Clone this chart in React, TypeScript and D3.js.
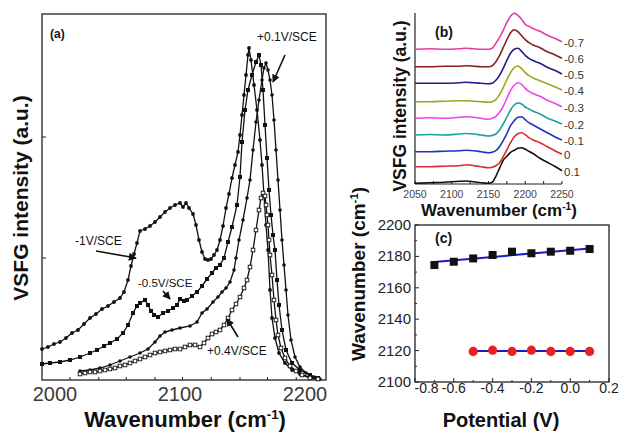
import React from 'react';
import * as d3 from 'd3';

const FONT = "'Liberation Sans', Arial, Helvetica, sans-serif";

// ---------- Panel (a) ----------
const aXTickLabels = [2000, 2100, 2200];
const aXTicks = [2012, 2035, 2057, 2080, 2102, 2125, 2148, 2170, 2193];
const aYTicks = [122, 243];

type P = [number, number];

const curveMinus1V: P[] = [
  [1989.6, 31], [1994.4, 33], [1999.2, 36], [2004, 38], [2008.8, 42], [2013.6, 47], [2018.4, 50], [2023.2, 56],
  [2028, 62], [2032.8, 66], [2037.6, 71], [2042.4, 74], [2047.2, 78], [2052, 82], [2055.2, 88], [2058.4, 100],
  [2060.8, 114], [2063.2, 126], [2065.6, 137], [2068, 149], [2072, 151], [2076, 154], [2080, 158], [2084, 163],
  [2088, 168], [2092, 172], [2096, 175], [2100, 177], [2102.4, 173], [2104.8, 177], [2107.2, 172], [2110.4, 166],
  [2112.8, 155], [2115.2, 140], [2117.6, 128], [2120, 121], [2122.4, 120], [2124.8, 121], [2127.2, 125], [2129.6, 130],
  [2132, 140], [2134.4, 154], [2136.8, 172], [2139.2, 186], [2141.6, 202], [2144, 215], [2146.4, 228], [2148, 245],
  [2149.6, 265], [2151.2, 285], [2152.8, 305], [2154.4, 325], [2155.2, 332], [2156.8, 320], [2159.2, 295], [2161.6, 270],
  [2164, 240], [2165.6, 215], [2167.2, 185], [2168.8, 155], [2170.4, 130], [2172, 90], [2173.6, 62], [2176, 42],
  [2179.2, 27], [2184, 17], [2189.6, 10], [2196, 6], [2204, 3], [2210.4, 1],
];

const curveMinus05V: P[] = [
  [1989.6, 16], [1996, 17], [2004, 18], [2012, 20], [2020, 23], [2028, 27], [2033.6, 30], [2039.2, 34], [2044, 37],
  [2049.6, 41], [2054.4, 47], [2058.4, 55], [2062.4, 67], [2065.6, 74], [2068, 77], [2072, 80], [2074.4, 75],
  [2076.8, 69], [2079.2, 65], [2082.4, 63], [2086.4, 67], [2090.4, 69], [2094.4, 72], [2097.6, 75], [2100, 81],
  [2103.2, 79], [2105.6, 80], [2109.6, 84], [2113.6, 88], [2117.6, 94], [2121.6, 101], [2125.6, 107], [2128.8, 112],
  [2132, 115], [2135.2, 122], [2138.4, 138], [2141.6, 153], [2145.6, 175], [2148, 203], [2149.6, 238], [2152, 270],
  [2154.4, 290], [2157.6, 305], [2160.8, 318], [2163.2, 325], [2164.8, 315], [2166.4, 290], [2168, 255], [2169.6, 222],
  [2171.2, 190], [2172.8, 165], [2174.4, 145], [2176, 130], [2177.6, 100], [2179.2, 75], [2181.6, 50], [2184.8, 30],
  [2189.6, 17], [2196, 10], [2204, 5], [2210.4, 2],
];

const curvePlus01V: P[] = [
  [2020, 9], [2028, 10], [2036, 12], [2044, 15], [2052, 19], [2060, 23], [2068, 27], [2074.4, 31], [2080, 38],
  [2084, 44], [2088, 48], [2093.6, 50], [2100, 52], [2108, 54], [2113.6, 58], [2117.6, 67], [2121.6, 71],
  [2126.4, 78], [2130.4, 83], [2133.6, 88], [2136.8, 92], [2140, 98], [2143.2, 110], [2144.8, 122], [2147.2, 140],
  [2150.4, 160], [2153.6, 182], [2156, 200], [2158.4, 230], [2160.8, 258], [2163.2, 280], [2165.6, 300], [2167.2, 312],
  [2168.8, 317], [2170.4, 310], [2172, 300], [2173.6, 285], [2175.2, 260], [2176.8, 230], [2178.4, 200], [2180, 170],
  [2181.6, 140], [2183.2, 115], [2184.8, 90], [2186.4, 65], [2188.8, 40], [2192, 23], [2196, 13], [2200.8, 7],
  [2207.2, 3], [2212, 1],
];

const curvePlus04V: P[] = [
  [2020, 6], [2024, 7], [2028, 8], [2032, 8], [2036, 9], [2040, 10], [2044, 11], [2048, 12], [2052, 14], [2056, 15],
  [2060, 17], [2064, 19], [2068, 21], [2072, 23], [2076, 25], [2080, 27], [2084, 28], [2088, 29], [2092, 30],
  [2096, 31], [2100, 31], [2104, 33], [2108, 35], [2112, 35], [2116, 33], [2119.2, 37], [2122.4, 42], [2125.6, 46],
  [2128.8, 48], [2132, 50], [2135.2, 55], [2138.4, 62], [2141.6, 70], [2144.8, 76], [2148, 83], [2151.2, 92],
  [2153.6, 100], [2156, 113], [2158.4, 130], [2160.8, 150], [2163.2, 170], [2164.8, 182], [2166.4, 187], [2168, 184],
  [2168.8, 175], [2169.6, 165], [2170.4, 155], [2171.2, 140], [2172, 125], [2173.6, 105], [2175.2, 80], [2176.8, 60],
  [2178.4, 45], [2180.8, 32], [2184, 22], [2188, 14], [2192.8, 9], [2197.6, 5], [2204, 2], [2210.4, 1],
];

// ---------- Panel (b) ----------
const bWavenumbers = [2050, 2070, 2090, 2110, 2120, 2130, 2140, 2150, 2155, 2160, 2165, 2170, 2175, 2180, 2185, 2190, 2195, 2200, 2205, 2210, 2220, 2230, 2240, 2250];
const bPotentials = ['-0.7', '-0.6', '-0.5', '-0.4', '-0.3', '-0.2', '-0.1', '0', '0.1'];
const bOffsets = [134.7, 117.3, 100.7, 82.3, 65.7, 49, 32.3, 17.3, 0.7];
const bColors = ['#e63caa', '#8a1f1f', '#1f1f8a', '#a3a31f', '#ee44ee', '#1f9e9e', '#2233c0', '#e02a2a', '#111111'];
const bSpectra = [
  [0, 0.5, 0, 0.5, 1, 0.5, 0, 0, 1, 6, 12, 19, 27, 33, 36, 34, 30, 25, 23, 21, 18, 14, 11, 7.6],
  [0, 0, 0.5, 0.5, 1, 0.5, 0, 0, 1, 5, 11, 19, 27, 34, 37, 35, 31, 27, 24, 22, 19, 15, 12, 8.4],
  [0, 0, 0, 0.5, 1, 0.5, 0, -0.5, 0, 3, 8, 15, 23, 30, 34, 35, 32, 28, 25, 23, 20, 16, 13, 9.3],
  [0, 0, 0.5, 1, 1, 0.5, 0, -0.5, 0, 2, 7, 14, 22, 29, 34, 35.7, 33, 29, 26, 24, 21, 18, 15, 11.7],
  [0, 0.5, 0, 1, 1.5, 1, 0, -1, 0, 2, 6, 12, 20, 28, 33, 35.5, 34, 30, 27, 25, 22, 18, 15, 11.6],
  [0, 0.5, 0, 1, 1.5, 1, 0, -1, -0.5, 1, 5, 11, 18, 25, 30, 32, 31, 28, 26, 24, 21, 17, 14, 11],
  [0, 0, 0.5, 1, 1.5, 1, 0, -1, -0.5, 1, 5, 11, 18, 26, 31, 34.5, 35, 32, 29, 27, 23, 19, 15, 11.7],
  [0, 0, 0.5, 1, 2, 1, 0, -1, -0.5, 1, 4, 10, 17, 24, 30, 33, 34, 32, 29, 27, 24, 20, 16, 12.7],
  [0, 0.5, 1, 2, 2.3, 1.5, 0.5, 0, 1, 7, 15, 23, 27, 31, 33, 35, 35.6, 34, 32, 30, 25, 21, 17, 12.6],
];
const bXTicks = [2050, 2075, 2100, 2125, 2150, 2175, 2200, 2225, 2250];
const bXTickLabels = [2050, 2100, 2150, 2200, 2250];

// ---------- Panel (c) ----------
const cPotentialSquares = [-0.7, -0.6, -0.5, -0.4, -0.3, -0.2, -0.1, 0.0, 0.1];
const cWavenumberSquares = [2174.5, 2176.6, 2178.7, 2180.9, 2183, 2182, 2183, 2183.6, 2184.7];
const cFitSquaresX = [-0.7, 0.1];
const cFitSquaresY = [2176.5, 2185];
const cPotentialCircles = [-0.5, -0.4, -0.3, -0.2, -0.1, 0.0, 0.1];
const cWavenumberCircles = [2119.5, 2120.3, 2119.5, 2120.3, 2119.5, 2119.5, 2119.5];
const cFitCirclesX = [-0.5, 0.1];
const cFitCirclesY = [2119.7, 2119.7];
const cXTicks = [-0.8, -0.6, -0.4, -0.2, 0.0, 0.2];
const cXMinor = [-0.7, -0.5, -0.3, -0.1, 0.1];
const cYTicks = [2100, 2120, 2140, 2160, 2180, 2200];
const cYMinor = [2110, 2130, 2150, 2170, 2190];

const CM = (size: number) => (
  <>
    Wavenumber (cm<tspan dy={-size * 0.38} fontSize={size * 0.6}>-1</tspan>
    <tspan dy={size * 0.38}>)</tspan>
  </>
);

export default function App() {
  // panel a
  const ax = d3.scaleLinear().domain([2000, 2200]).range([55, 305]);
  const ay = d3.scaleLinear().domain([0, 364]).range([380, 16]);
  const aLine = d3.line<P>().x(d => ax(d[0])).y(d => ay(d[1]));
  const aL = 42, aR = 326, aT = 14, aB = 380;

  // panel b
  const bx = d3.scaleLinear().domain([2050, 2250]).range([415, 562]);
  const by = d3.scaleLinear().domain([0, 171]).range([184, 13]);
  const bLine = d3.line<number>().x((_, i) => bx(bWavenumbers[i])).curve(d3.curveMonotoneX);

  // panel c
  const cx = d3.scaleLinear().domain([-0.8, 0.2]).range([415, 609]);
  const cy = d3.scaleLinear().domain([2100, 2200]).range([382, 225]);

  const arrow = (x1: number, y1: number, x2: number, y2: number, k: string) => (
    <line key={k} x1={x1} y1={y1} x2={x2} y2={y2} stroke="#111" strokeWidth={1.6} markerEnd="url(#ah)" />
  );

  return (
    <svg width={622} height={432} style={{ position: 'fixed', left: 0, top: 0 }} fontFamily={FONT}>
      <defs>
        <marker id="ah" viewBox="0 0 10 10" refX="9" refY="5" markerWidth="5" markerHeight="5" orient="auto">
          <path d="M0,0 L10,5 L0,10 z" fill="#111" />
        </marker>
      </defs>
      <rect width={622} height={432} fill="#fff" />

      {/* ===== Panel (a) ===== */}
      <g>
        <rect x={aL} y={aT} width={aR - aL} height={aB - aT} fill="none" stroke="#222" strokeWidth={1.3} />
        {aXTicks.map(t => (
          <line key={'axt' + t} x1={ax(t)} x2={ax(t)} y1={aB} y2={aB - 3} stroke="#222" />
        ))}
        {aYTicks.map(t => (
          <line key={'ayt' + t} x1={aL} x2={aL + 4} y1={ay(t)} y2={ay(t)} stroke="#222" />
        ))}
        {aXTickLabels.map(t => (
          <text key={'axl' + t} x={ax(t)} y={401} fontSize={20} fill="#3a3a3a" textAnchor="middle">{t}</text>
        ))}
        <text x={185} y={427} fontSize={22} fontWeight="bold" textAnchor="middle" fill="#111">{CM(22)}</text>
        <text transform={`translate(28,198) rotate(-90)`} fontSize={21} fontWeight="bold" textAnchor="middle" fill="#111">
          VSFG intensity (a.u.)
        </text>

        {[curveMinus1V, curveMinus05V, curvePlus01V, curvePlus04V].map((c, i) => (
          <path key={'ac' + i} d={aLine(c) || ''} fill="none" stroke="#111" strokeWidth={1.3} />
        ))}
        {curveMinus1V.map((d, i) => (
          <circle key={'m1' + i} cx={ax(d[0])} cy={ay(d[1])} r={1.9} fill="#111" />
        ))}
        {curveMinus05V.map((d, i) => (
          <rect key={'m2' + i} x={ax(d[0]) - 2} y={ay(d[1]) - 2} width={4} height={4} fill="#111" />
        ))}
        {curvePlus01V.map((d, i) => (
          <circle key={'m3' + i} cx={ax(d[0])} cy={ay(d[1])} r={1.8} fill="#111" />
        ))}
        {curvePlus04V.map((d, i) => (
          <rect key={'m4' + i} x={ax(d[0]) - 1.8} y={ay(d[1]) - 1.8} width={3.6} height={3.6} fill="#fff" stroke="#111" strokeWidth={0.9} />
        ))}

        <text x={50} y={38} fontSize={12} fontWeight="bold" fill="#111">(a)</text>
        <text x={257} y={41} fontSize={12} fill="#111">+0.1V/SCE</text>
        <text x={75} y={245} fontSize={12} fill="#111">-1V/SCE</text>
        <text x={138} y={287} fontSize={11.5} fill="#111">-0.5V/SCE</text>
        <text x={207} y={355} fontSize={12} fill="#111">+0.4V/SCE</text>
        {arrow(285, 55, 273, 82, 'ar1')}
        {arrow(96, 251, 136, 258, 'ar2')}
        {arrow(163, 291, 170, 299, 'ar3')}
        {arrow(238, 337, 227, 319, 'ar4')}
      </g>

      {/* ===== Panel (b) ===== */}
      <g>
        <line x1={415} x2={415} y1={13} y2={184} stroke="#222" strokeWidth={1.2} />
        <line x1={415} x2={562} y1={184} y2={184} stroke="#222" strokeWidth={1.2} />
        {bXTicks.map(t => (
          <line key={'bxt' + t} x1={bx(t)} x2={bx(t)} y1={184} y2={181} stroke="#222" />
        ))}
        {bXTickLabels.map(t => (
          <text key={'bxl' + t} x={bx(t)} y={198} fontSize={10.5} fill="#444" textAnchor="middle">{t}</text>
        ))}
        <text x={499} y={216} fontSize={17} fontWeight="bold" textAnchor="middle" fill="#111">{CM(17)}</text>
        <text transform={`translate(406,106) rotate(-90)`} fontSize={17.5} fontWeight="bold" textAnchor="middle" fill="#111">
          VSFG intensity (a.u.)
        </text>
        {bSpectra.map((s, k) => (
          <path key={'bs' + k} d={bLine.y(v => by(v + bOffsets[k]))(s) || ''} fill="none" stroke={bColors[k]} strokeWidth={1.6} />
        ))}
        {bSpectra.map((s, k) => (
          <text key={'bl' + k} x={564} y={by(s[s.length - 1] + bOffsets[k]) + 5} fontSize={11.5} fill="#333">{bPotentials[k]}</text>
        ))}
        <text x={435} y={37} fontSize={14} fontWeight="bold" fill="#111">(b)</text>
      </g>

      {/* ===== Panel (c) ===== */}
      <g>
        <rect x={415} y={225} width={194} height={157} fill="none" stroke="#222" strokeWidth={1.3} />
        {cXTicks.map(t => (
          <line key={'cxt' + t} x1={cx(t)} x2={cx(t)} y1={382} y2={378} stroke="#222" />
        ))}
        {cXMinor.map(t => (
          <line key={'cxm' + t} x1={cx(t)} x2={cx(t)} y1={382} y2={380} stroke="#222" />
        ))}
        {cYTicks.map(t => (
          <line key={'cyt' + t} x1={415} x2={419} y1={cy(t)} y2={cy(t)} stroke="#222" />
        ))}
        {cYMinor.map(t => (
          <line key={'cym' + t} x1={415} x2={417} y1={cy(t)} y2={cy(t)} stroke="#222" />
        ))}
        {cXTicks.map((t, i) => (
          <text key={'cxl' + t} x={i === 0 ? cx(t) - 0.5 : cx(t)} y={393} fontSize={14} fill="#222" textAnchor={i === 0 ? 'start' : 'middle'}>{t.toFixed(1)}</text>
        ))}
        {cYTicks.map(t => (
          <text key={'cyl' + t} x={411} y={cy(t) + 5} fontSize={15} fill="#222" textAnchor="end">{t}</text>
        ))}
        <text x={501} y={427} fontSize={20} fontWeight="bold" textAnchor="middle" fill="#111">Potential (V)</text>
        <text transform={`translate(365,274) rotate(-90)`} fontSize={19} fontWeight="bold" textAnchor="middle" fill="#111">{CM(19)}</text>
        <text x={435} y={243} fontSize={14} fontWeight="bold" fill="#111">(c)</text>

        <line x1={cx(cFitSquaresX[0])} y1={cy(cFitSquaresY[0])} x2={cx(cFitSquaresX[1])} y2={cy(cFitSquaresY[1])} stroke="#1a1ad0" strokeWidth={2} />
        {cPotentialSquares.map((p, i) => (
          <rect key={'cs' + i} x={cx(p) - 4} y={cy(cWavenumberSquares[i]) - 4} width={8} height={8} fill="#111" />
        ))}
        <line x1={cx(cFitCirclesX[0])} y1={cy(cFitCirclesY[0])} x2={cx(cFitCirclesX[1])} y2={cy(cFitCirclesY[1])} stroke="#1a1ad0" strokeWidth={2} />
        {cPotentialCircles.map((p, i) => (
          <circle key={'cc' + i} cx={cx(p)} cy={cy(cWavenumberCircles[i])} r={4.6} fill="#e82020" />
        ))}
      </g>
    </svg>
  );
}
